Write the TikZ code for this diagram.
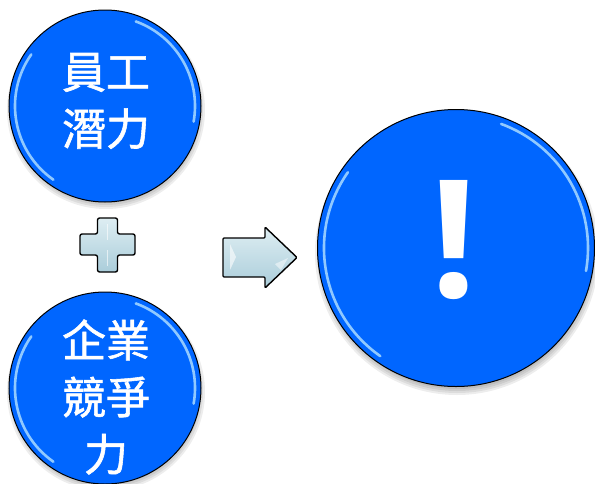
\documentclass[tikz,border=0pt]{standalone}
\usepackage{fontspec}
\newfontfamily\cjk{Noto Sans CJK TC}[FakeBold=1.3]
\newfontfamily\exfont{Open Sans}
\definecolor{ballblue}{RGB}{0,102,255}
\definecolor{rimlight}{RGB}{160,212,255}
\definecolor{iceblue}{RGB}{200,226,234}
\definecolor{icedark}{RGB}{170,205,218}
\tikzset{
  ball/.style={circle, draw=black, line width=1pt, fill=ballblue, inner sep=0pt},
  balltext/.style={text=white, font=\cjk\fontsize{44}{57}\selectfont, align=center, inner sep=0pt},
  glossy/.style={draw=black, line width=1.4pt, line join=round, top color=iceblue!60!white, bottom color=icedark},
  softshadow/.style={fill=black, opacity=0.07},
}
\newcommand{\rimgloss}[2]{%
  \draw[rimlight, line width=2.6pt, opacity=0.9, line cap=round] (#1) ++(125:#2-6) arc[start angle=125, end angle=215, radius=#2-6];
  \draw[rimlight, line width=2.6pt, opacity=0.9, line cap=round] (#1) ++(-70:#2-6) arc[start angle=-70, end angle=10, radius=#2-6];
}
\newcommand{\ballshadow}[3]{%
  \foreach \r in {0,2,4,6}{\fill[softshadow] (#1,#2) circle[radius=#3+\r-2];}
}
\begin{document}
\begin{tikzpicture}[x=1pt,y=-1pt]
\useasboundingbox (0,0) rectangle (595,483);
% shadows
\ballshadow{106}{110}{95}
\ballshadow{106}{392}{95}
\ballshadow{457}{253}{138}
% balls
\node[ball, minimum size=192pt] (b1) at (105,106) {};
\node[ball, minimum size=192pt] (b2) at (105,388) {};
\node[ball, minimum size=277pt] (b3) at (456,248) {};
\rimgloss{b1.center}{96}
\rimgloss{b2.center}{96}
\rimgloss{b3.center}{138}
\node[balltext] (t1) at (106,101) {員工\\潛力};
\node[balltext] (t2) at (106,397) {企業\\競爭\\力};
\node[text=white, font=\exfont\bfseries\fontsize{164}{164}\selectfont, inner sep=0pt, anchor=base] (ex) at (454,297) {!};
% plus
\draw[glossy, rounded corners=2pt] (97.5,218) -- (117.5,218) -- (117.5,234) -- (135,234) -- (135,255) -- (117.5,255) -- (117.5,272) -- (97.5,272) -- (97.5,255) -- (80,255) -- (80,234) -- (97.5,234) -- cycle;
\node[inner sep=0pt] (plus) at (107.5,245) {};
\draw[white, opacity=0.6, line width=1.5pt] (107.5,224) -- (107.5,240);
\draw[white, opacity=0.6, line width=1.5pt] (107.5,250) -- (107.5,266);
% arrow
\draw[glossy, rounded corners=1pt] (223,238) -- (265,238) -- (265,227) -- (297,257.5) -- (265,288) -- (265,277) -- (223,277) -- cycle;
\node[inner sep=0pt] (arr) at (258,257.5) {};
\fill[white, opacity=0.6] (230,244) -- (236,257) -- (230,270) -- cycle;
\fill[white, opacity=0.5] (275,264) -- (288,258) -- (281,270) -- cycle;
\end{tikzpicture}
\end{document}
